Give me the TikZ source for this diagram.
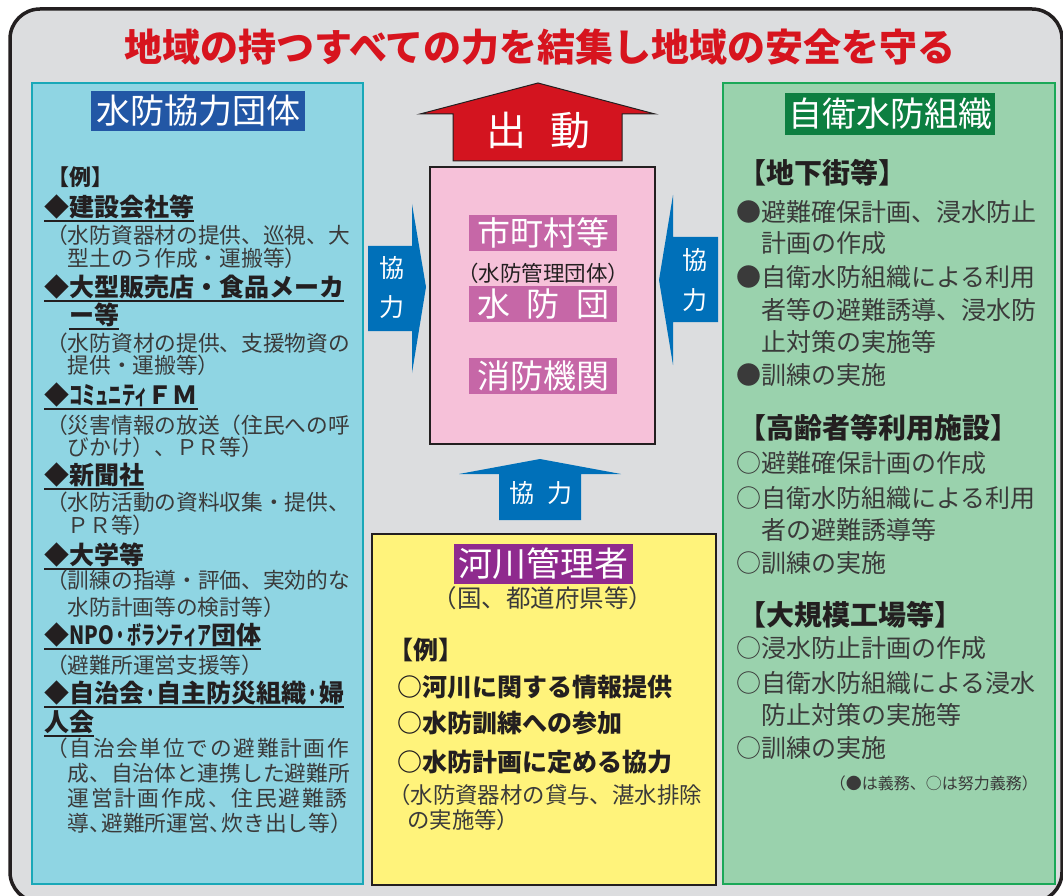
\documentclass[tikz,border=0pt]{standalone}
\usepackage{graphicx}
\usepackage{fontspec}
\setmainfont{Noto Sans CJK JP}
\definecolor{bggray}{HTML}{DCDDDF}
\definecolor{framec}{HTML}{231F20}
\definecolor{titlered}{HTML}{D7141E}
\definecolor{cyanfill}{HTML}{8FD5E3}
\definecolor{cyanline}{HTML}{19A8B8}
\definecolor{headblue}{HTML}{2257A5}
\definecolor{arrblue}{HTML}{0070B9}
\definecolor{arrred}{HTML}{D3141F}
\definecolor{pinkfill}{HTML}{F6C1D9}
\definecolor{pinklab}{HTML}{C667A7}
\definecolor{yelfill}{HTML}{FFF37B}
\definecolor{purplab}{HTML}{8F2A8E}
\definecolor{greenfill}{HTML}{9AD2AD}
\definecolor{greenline}{HTML}{1BA858}
\definecolor{greenlab}{HTML}{0D7F41}
\definecolor{darktext}{HTML}{231F20}
\definecolor{bodygray}{HTML}{3A3A3A}
\begin{document}
\begin{tikzpicture}[x=1pt,y=-1pt,
  panel/.style={line width=1.8pt},
  lab/.style={inner sep=0pt, text=white, font=\fontsize{34}{36}\selectfont},
  body/.style={inner sep=0pt, anchor=west, text=bodygray, font=\fontsize{21.7}{24}\selectfont},
  bitem/.style={inner sep=0pt, anchor=west, text=darktext, font=\fontsize{25}{28}\selectfont\bfseries},
  ulline/.style={draw=darktext, line width=2pt},
  ulitem/.style={bitem, append after command={([yshift=-2pt]\tikzlastnode.south west) edge[ulline] ([yshift=-2pt]\tikzlastnode.south east)}},
  rbody/.style={inner sep=0pt, anchor=west, text=bodygray, font=\fontsize{25}{28}\selectfont},
  rhead/.style={inner sep=0pt, anchor=west, text=darktext, font=\fontsize{28}{30}\selectfont\bfseries},
  arrtxt/.style={inner sep=0pt, text=white, font=\fontsize{25}{28}\selectfont}
]
\useasboundingbox (0,0) rectangle (1063,896);
\clip (0,0) rectangle (1063,896);
\fill[white] (0,0) rectangle (1063,896);
% outer frame
\draw[line width=3.5pt, draw=framec, fill=bggray, rounded corners=30pt] (10,9) rectangle (1062,902);
% title
\node[inner sep=0pt, text=titlered, font=\fontsize{38}{40}\selectfont\bfseries] (title) at (540,47) {地域の持つすべての力を結集し地域の安全を守る};

% ===== left panel =====
\draw[panel, draw=cyanline, fill=cyanfill] (32,83) rectangle (363,884);
\node[lab, fill=headblue, minimum width=214pt, minimum height=40pt] (lhead) at (198,111) {水防協力団体};
\node[inner sep=0pt, anchor=west, text=darktext, font=\fontsize{22}{24}\selectfont\bfseries] (lex) at (47,177) {【例】};
\node[ulitem] (i1) at (44,207) {◆建設会社等};
\node[body] (t1a) at (46,235) {（水防資器材の提供、巡視、大};
\node[body] (t1b) at (67.5,258) {型土のう作成・運搬等）};
\node[ulitem] (i2) at (44,287) {◆大型販売店・食品メーカ};
\node[ulitem] (i2b) at (69,315) {ー等};
\node[body] (t2a) at (46,343) {（水防資材の提供、支援物資の};
\node[body] (t2b) at (67.5,365) {提供・運搬等）};
\node[ulitem] (i3) at (44,395) {◆\scalebox{0.53}[1]{コミュニティ}ＦＭ};
\node[body] (t3a) at (46,425) {（災害情報の放送（住民への呼};
\node[body] (t3b) at (67.5,447) {びかけ）、ＰＲ等）};
\node[ulitem] (i4) at (44,475) {◆新聞社};
\node[body] (t4a) at (46,502) {（水防活動の資料収集・提供、};
\node[body] (t4b) at (67.5,525) {ＰＲ等）};
\node[ulitem] (i5) at (44,555) {◆大学等};
\node[body] (t5a) at (46,580) {（訓練の指導・評価、実効的な};
\node[body] (t5b) at (67.5,607) {水防計画等の検討等）};
\node[ulitem] (i6) at (44,635) {◆\scalebox{0.8}[1]{NPO}\scalebox{0.56}[1]{・ボランティア}団体};
\node[body] (t6a) at (46,665) {（避難所運営支援等）};
\node[ulitem] (i7) at (44,693) {◆自治会\scalebox{0.5}[1]{・}自主防災組織\scalebox{0.5}[1]{・}婦};
\node[ulitem] (i7b) at (44,722) {人会};
\node[body] (t7a) at (46,748) {\addfontfeature{LetterSpace=8}（自治会単位での避難計画作};
\node[body] (t7b) at (67.5,773) {成、自治体と連携した避難所};
\node[body] (t7c) at (67.5,798) {\addfontfeature{LetterSpace=8}運営計画作成、住民避難誘};
\node[body] (t7d) at (67.5,823) {導、\kern-.45em 避難所運営、\kern-.45em 炊き出し等）};

% ===== centre =====
% red arrow
\draw[line width=1pt, draw=framec, fill=arrred] (453,161) -- (453,114) -- (420,114) -- (538,83) -- (655,114) -- (622,114) -- (622,161) -- cycle;
\node[inner sep=0pt, text=white, font=\fontsize{40}{42}\selectfont] (shutsudo) at (538,131) {出\hspace{0.6em}動};
% pink box
\draw[line width=1.5pt, draw=framec, fill=pinkfill] (430,167) rectangle (655,444);
\node[lab, fill=pinklab, minimum width=148pt, minimum height=36pt, font=\fontsize{33}{35}\selectfont] (city) at (543,233) {市町村等};
\node[inner sep=0pt, text=darktext, font=\fontsize{21.5}{24}\selectfont] (citysub) at (543,273) {（水防管理団体）};
\node[lab, fill=pinklab, minimum width=148pt, minimum height=36pt, font=\fontsize{33}{35}\selectfont] (suibodan) at (543,304) {水\hspace{0.5em}防\hspace{0.5em}団};
\node[lab, fill=pinklab, minimum width=148pt, minimum height=36pt, font=\fontsize{33}{35}\selectfont] (fire) at (543,375.5) {消防機関};
% blue arrows
\fill[arrblue] (368,246) -- (412,246) -- (412,204) -- (426,287) -- (412,373) -- (412,331) -- (368,331) -- cycle;
\node[arrtxt] (lk1) at (392,268) {協};
\node[arrtxt] (lk2) at (392,307) {力};
\fill[arrblue] (718,237) -- (673,237) -- (673,195) -- (659,280) -- (673,365) -- (673,322) -- (718,322) -- cycle;
\node[arrtxt] (rk1) at (695,260) {協};
\node[arrtxt] (rk2) at (695,300) {力};
\fill[arrblue] (499,520) -- (499,474) -- (459,474) -- (540,459) -- (621,474) -- (581,474) -- (581,520) -- cycle;
\node[arrtxt] (bk) at (541,493) {協\hspace{0.5em}力};
% yellow box
\draw[line width=1.8pt, draw=framec, fill=yelfill] (372,534) rectangle (716,885);
\node[lab, fill=purplab, minimum width=179pt, minimum height=40pt] (river) at (543.5,564) {河川管理者};
\node[inner sep=0pt, text=bodygray, font=\fontsize{24.5}{26}\selectfont] (riversub) at (543,598) {（国、都道府県等）};
\node[bitem] (yex) at (388,650) {【例】};
\node[bitem] (y1) at (397,687) {○河川に関する情報提供};
\node[bitem] (y2) at (397,723) {○水防訓練への参加};
\node[bitem] (y3) at (397,762) {○水防計画に定める協力};
\node[body, font=\fontsize{22.4}{24}\selectfont] (y4) at (388,795) {（水防資器材の貸与、湛水排除};
\node[body, font=\fontsize{22.4}{24}\selectfont] (y5) at (407,820) {の実施等）};

% ===== right panel =====
\draw[panel, draw=greenline, fill=greenfill] (723,83) rectangle (1055,884);
\node[lab, fill=greenlab, minimum width=210pt, minimum height=42pt] (rhead) at (890,114) {自衛水防組織};
\node[rhead] (h1) at (738,173) {【地下街等】};
\node[rbody] (r1) at (736,212) {●避難確保計画、浸水防止};
\node[rbody] (r2) at (761,243) {計画の作成};
\node[rbody] (r3) at (736,277) {●自衛水防組織による利用};
\node[rbody] (r4) at (761,310) {者等の避難誘導、浸水防};
\node[rbody] (r5) at (761,342) {止対策の実施等};
\node[rbody] (r6) at (736,375) {●訓練の実施};
\node[rhead] (h2) at (738,428) {【高齢者等利用施設】};
\node[rbody] (r7) at (736,463) {○避難確保計画の作成};
\node[rbody] (r8) at (736,498) {○自衛水防組織による利用};
\node[rbody] (r9) at (761,530) {者の避難誘導等};
\node[rbody] (r10) at (736,563) {○訓練の実施};
\node[rhead] (h3) at (738,615) {【大規模工場等】};
\node[rbody] (r11) at (736,648) {○浸水防止計画の作成};
\node[rbody] (r12) at (736,683) {○自衛水防組織による浸水};
\node[rbody] (r13) at (761,715) {防止対策の実施等};
\node[rbody] (r14) at (736,748) {○訓練の実施};
\node[inner sep=0pt, anchor=east, text=bodygray, font=\fontsize{16}{18}\selectfont] (note) at (1038,783) {（●は義務、○は努力義務）};
\end{tikzpicture}
\end{document}
